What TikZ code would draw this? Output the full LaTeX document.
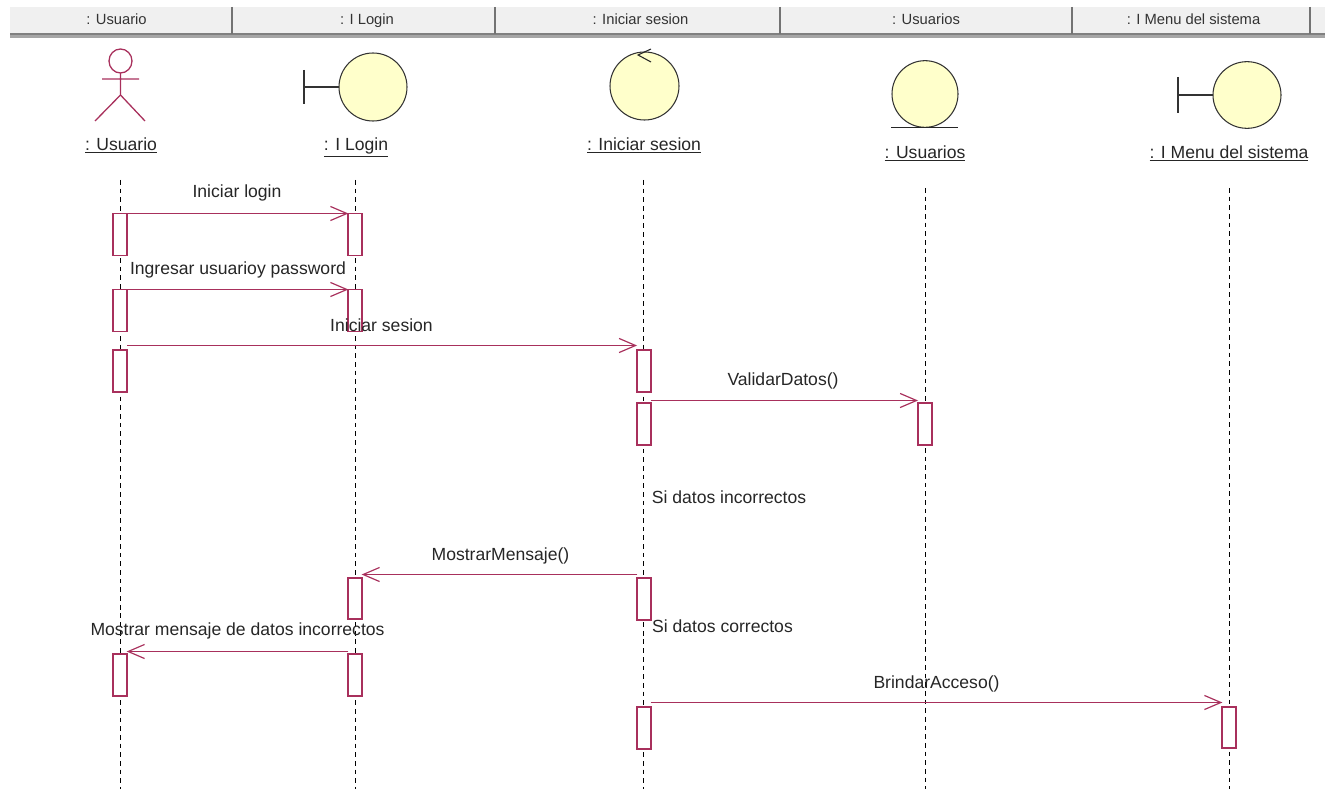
\documentclass[tikz,border=0pt]{standalone}
\usepackage{fontspec}
\setmainfont{Liberation Sans}
\usetikzlibrary{arrows.meta,shapes.geometric}
\definecolor{umlred}{HTML}{A8305C}
\definecolor{umlfill}{HTML}{FFFFCB}
\definecolor{headbar}{HTML}{F0F0F0}
\tikzset{
	x=0.03cm,y=-0.03cm,
	lifeline/.style={draw=black,line width=1.3pt,dash pattern=on 4pt off 3.4pt},
	activation/.style={draw=umlred,fill=white,line width=1.5pt,minimum width=0.4cm,inner sep=0pt,outer sep=0pt},
	message/.style={draw=umlred,line width=1.5pt,-{Straight Barb[length=14pt,width=12pt,line width=1pt]}},
	object/.style={draw=black!80,fill=umlfill,line width=0.9pt},
	objname/.style={font=\fontsize{15pt}{17pt}\selectfont,text=black!85,inner sep=0pt,anchor=base},
	msglabel/.style={font=\fontsize{15pt}{17pt}\selectfont,text=black!85,inner sep=0pt,anchor=base},
	headcell/.style={font=\fontsize{12.6pt}{15pt}\selectfont,text=black!80,inner sep=0pt,anchor=base}
}
\begin{document}
\begin{tikzpicture}
	\useasboundingbox (0,0) rectangle (1333,789);
	% barra de columnas
	\fill[headbar] (10,7) rectangle (1325,33);
	\fill[black!50] (10,33) rectangle (1325,35.5);
	\fill[black!35] (10,35.5) rectangle (1325,38);
	\foreach \x in {232,495,780,1072,1310}
		\draw[black!55,line width=1pt] (\x,7) -- (\x,34);
	\node[headcell] (hu) at (116.5,25) {: Usuario};
	\node[headcell] (hl) at (367,25) {: I Login};
	\node[headcell] (hs) at (640.5,25) {: Iniciar sesion};
	\node[headcell] (hd) at (926,25) {: Usuarios};
	\node[headcell] (hm) at (1193.5,25) {: I Menu del sistema};
	% lineas de vida
	\foreach \x/\y/\n in {120.5/180/u,355.5/180/l,643.5/180/s,925.5/188/d,1229.5/188/m}{
		\coordinate (top\n) at (\x,\y);
		\coordinate (bot\n) at (\x,789);
		\draw[lifeline] (top\n) -- (bot\n);
	}
	% actor
	\draw[umlred,line width=1.1pt] (120.5,61) ellipse (11.5 and 12);
	\draw[umlred,line width=1.1pt] (120.5,73) -- (120.5,95) -- (95,121) (120.5,95) -- (145,121) (102,79) -- (139,79);
	% objetos
	\draw[black!80,line width=0.9pt] (304,70) -- (304,104) (304,87) -- (339,87);
	\node[object,ellipse,minimum width=2.04cm,minimum height=2.04cm,inner sep=0pt] (ologin) at (373,87) {};
	\node[object,ellipse,minimum width=2.07cm,minimum height=2.04cm,inner sep=0pt] (oses) at (644.5,86) {};
	\draw[black!85,line width=0.9pt] (651,49) -- (638,55) -- (651,62);
	\node[object,ellipse,minimum width=1.98cm,minimum height=2cm,inner sep=0pt] (odat) at (925,94) {};
	\draw[black!85,line width=0.9pt] (891,127.5) -- (958,127.5);
	\draw[black!80,line width=0.9pt] (1178,77) -- (1178,113) (1178,95) -- (1213,95);
	\node[object,ellipse,minimum width=2.04cm,minimum height=2cm,inner sep=0pt] (omenu) at (1247,95) {};
	% nombres
	\node[objname] (nu) at (121,150.5) {\underline{: Usuario}};
	\node[objname] (nl) at (356,150.5) {\underline{: I Login}};
	\node[objname] (ns) at (644,150.5) {\underline{: Iniciar sesion}};
	\node[objname] (nd) at (925,158.5) {\underline{: Usuarios}};
	\node[objname] (nm) at (1229,158.5) {\underline{: I Menu del sistema}};
	% activaciones
	\foreach \x/\y/\h/\n in {120/234.5/42/u1,355/234.5/42/l1,120/310.5/42/u2,355/310.5/42/l2,120/371/42/u3,644/371/42/s1,
		644/424/42/s2,925/424/42/d1,355/598.5/41/l3,644/599/42/s3,120/675/42/u4,355/675/42/l4,644/728/42/s4,1229/727.5/41/m1}
		\node[activation,minimum height=\h*0.03cm] (\n) at (\x,\y) {};
	% mensajes
	\coordinate (startses) at (127,345.5);
	\coordinate (endses) at (637,345.5);
	\coordinate (startdat) at (s2.north east |- 0,400.5);
	\coordinate (enddat) at (918,400.5);
	\draw[message] (u1.north east) -- (l1.north west);
	\draw[message] (u2.north east) -- (l2.north west);
	\draw[message] (startses) -- (endses);
	\draw[message] (startdat) -- (enddat);
	\draw[message] (s3.north west |- 0,574.5) -- (l3.north east |- 0,574.5);
	\draw[message] (l4.north west |- 0,651.5) -- (u4.north east |- 0,651.5);
	\draw[message] (s4.north east |- 0,702.5) -- (m1.north west |- 0,702.5);
	% etiquetas
	\node[msglabel] (m1l) at (237,198) {Iniciar login};
	\node[msglabel] (m2l) at (238,275) {Ingresar usuarioy password};
	\node[msglabel] (m3l) at (381.5,331) {Iniciar sesion};
	\node[msglabel] (m4l) at (783,385) {ValidarDatos()};
	\node[msglabel] (n1l) at (729,503) {Si datos incorrectos};
	\node[msglabel] (m5l) at (500.5,560) {MostrarMensaje()};
	\node[msglabel] (n2l) at (722.5,632) {Si datos correctos};
	\node[msglabel] (m6l) at (237.5,635.5) {Mostrar mensaje de datos incorrectos};
	\node[msglabel] (m7l) at (936.5,688) {BrindarAcceso()};
\end{tikzpicture}
\end{document}
